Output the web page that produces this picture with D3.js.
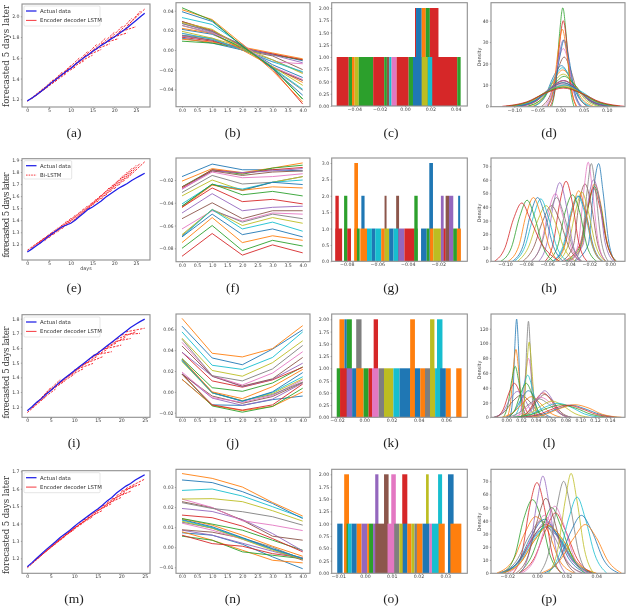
<!DOCTYPE html>
<html><head><meta charset="utf-8">
<script src="https://cdn.jsdelivr.net/npm/d3@7"></script>
<style>
html,body{margin:0;padding:0;background:#fff}
svg{display:block;filter:blur(0.55px)}
</style></head><body><svg id="c" width="629" height="608"></svg>
<script>
// ---------- palette ----------
const tab10=["#1f77b4","#ff7f0e","#2ca02c","#d62728","#9467bd","#8c564b","#e377c2","#7f7f7f","#bcbd22","#17becf"];

// ---------- forecast panels (a, e, i, m) ----------
const actualA=[1.185,1.21,1.24,1.27,1.305,1.34,1.375,1.405,1.44,1.47,1.50,1.535,1.57,1.60,1.63,1.66,1.69,1.72,1.745,1.775,1.80,1.83,1.86,1.89,1.925,1.96,1.995,2.03];
const foreStartA=[1.18,1.205,1.235,1.27,1.30,1.335,1.37,1.41,1.435,1.475,1.495,1.54,1.565,1.61,1.625,1.67,1.685,1.735,1.74,1.79,1.795,1.845,1.855,1.91];
const foreEndA=[1.315,1.33,1.39,1.39,1.46,1.45,1.525,1.51,1.60,1.57,1.665,1.625,1.73,1.68,1.79,1.735,1.845,1.785,1.91,1.84,1.98,1.90,2.05,2.07];
const actualE=[1.136,1.16,1.185,1.21,1.24,1.27,1.295,1.32,1.345,1.36,1.375,1.40,1.43,1.46,1.49,1.51,1.535,1.56,1.59,1.615,1.64,1.665,1.685,1.705,1.73,1.75,1.77,1.79];
const foreStartE=[1.15,1.17,1.19,1.21,1.23,1.255,1.28,1.305,1.33,1.355,1.375,1.405,1.435,1.465,1.495,1.525,1.55,1.575,1.605,1.635,1.66,1.69,1.72,1.75];
const foreEndE=[1.255,1.28,1.31,1.335,1.36,1.39,1.415,1.44,1.465,1.495,1.525,1.55,1.58,1.61,1.64,1.675,1.705,1.735,1.77,1.80,1.83,1.855,1.875,1.885];
const actualI=[1.173,1.20,1.23,1.255,1.285,1.31,1.34,1.37,1.395,1.42,1.445,1.47,1.495,1.52,1.545,1.565,1.59,1.615,1.64,1.665,1.69,1.715,1.74,1.76,1.78,1.797];
const foreStartI=[1.16,1.19,1.225,1.26,1.29,1.315,1.34,1.365,1.395,1.42,1.45,1.47,1.49,1.52,1.55,1.57,1.59,1.61,1.64,1.66,1.69,1.71];
const foreEndI=[1.27,1.33,1.32,1.385,1.375,1.42,1.42,1.46,1.46,1.505,1.495,1.545,1.54,1.59,1.575,1.635,1.62,1.675,1.665,1.71,1.70,1.735];
const actualM=[1.152,1.175,1.20,1.225,1.25,1.272,1.295,1.32,1.34,1.36,1.383,1.405,1.425,1.445,1.465,1.483,1.505,1.53,1.55,1.575,1.595,1.615,1.63,1.65,1.665,1.68];
const foreStartM=[1.145,1.17,1.195,1.22,1.24,1.265,1.29,1.31,1.335,1.355,1.375,1.395,1.42,1.44,1.46,1.475,1.50,1.52,1.54,1.56,1.585,1.60];
const foreEndM=[1.24,1.265,1.285,1.31,1.325,1.35,1.365,1.39,1.405,1.43,1.44,1.465,1.475,1.505,1.515,1.545,1.55,1.58,1.585,1.62,1.625,1.655];

// ---------- multi-line panels (b, f, j, n): one row per series, x = 0..4 ----------
const linesB=[
[.012,.007,0,-.004,-.011],[.011,.008,.003,-.003,-.009],[.009,.007,.002,-.005,-.010],[.013,.009,.002,-.004,-.010],
[.014,.010,.002,-.005,-.013],[.015,.010,0,-.006,-.020],[.017,.011,0,-.012,-.014],[.015,.012,0,-.010,-.023],
[.019,.012,.003,-.010,-.024],[.017,.011,0,-.012,-.022],[.021,.016,.003,-.015,-.028],[.022,.017,0,-.017,-.033],
[.025,.017,.002,-.017,-.050],[.029,.020,.004,-.019,-.055],[.027,.018,.005,-.018,-.031],[.029,.019,.004,-.018,-.031],
[.025,.017,.006,-.017,-.030],[.027,.019,.005,-.019,-.041],[.028,.021,.002,-.017,-.036],[.033,.026,.005,-.018,-.040],
[.039,.029,.004,-.019,-.046],[.041,.031,.006,-.021,-.053],[.043,.030,.004,-.018,-.050]];
const linesF=[
[-.017,-.006,-.011,-.011,-.012],[-.021,-.010,-.0135,-.0095,-.005],[-.026,-.011,-.015,-.0095,-.007],[-.027,-.011,-.014,-.011,-.009],
[-.028,-.012,-.0135,-.012,-.010],[-.026,-.012,-.016,-.013,-.012],[-.028,-.013,-.018,-.017,-.0145],[-.031,-.016,-.0235,-.022,-.017],
[-.034,-.020,-.029,-.022,-.017],[-.041,-.024,-.028,-.022,-.020],[-.043,-.024,-.029,-.022,-.024],[-.044,-.0245,-.029,-.026,-.027],
[-.043,-.0235,-.033,-.030,-.034],[-.044,-.027,-.039,-.037,-.041],[-.049,-.032,-.047,-.044,-.043],[-.054,-.040,-.054,-.047,-.047],
[-.063,-.047,-.056,-.049,-.050],[-.069,-.046,-.057,-.050,-.054],[-.068,-.046,-.060,-.053,-.058],[-.070,-.046,-.063,-.057,-.065],
[-.070,-.050,-.068,-.063,-.070],[-.075,-.053,-.075,-.069,-.073],[-.080,-.060,-.082,-.073,-.078],[-.087,-.067,-.086,-.077,-.084]];
const linesJ=[
[.012,-.0125,-.013,-.0075,-.004],[.012,-.013,-.018,-.014,0],[.017,-.0135,-.0195,-.014,.0035],[.017,-.0125,-.0175,-.0125,.0075],
[.0175,-.006,-.013,-.007,.0085],[.017,-.004,-.011,-.0045,.009],[.019,-.0055,-.010,-.0035,.0115],[.030,-.001,-.0085,-.0025,.0095],
[.029,-.001,-.0085,-.0015,.0125],[.030,-.001,-.009,-.0005,.0145],[.031,-.0005,-.009,0,.0185],[.0315,0,-.0065,.005,.0215],
[.032,.004,.0005,.0085,.024],[.038,.0105,.0045,.0115,.0235],[.038,.015,.005,.012,.0275],[.044,.015,.0055,.0125,.033],
[.0475,.0155,.0065,.018,.0385],[.0505,.0155,.0105,.022,.0445],[.0515,.0205,.015,.028,.049],[.0575,.0255,.0215,.033,.0575],
[.063,.0325,.026,.041,.0595],[.0705,.037,.0335,.0415,.0635]];
const linesN=[
[.0072,.006,.0015,-.0048,-.0107],[.0077,.0035,-.0015,-.0065,-.0078],[.0055,.0035,-.0023,-.004,-.0057],[.006,.0018,.0005,-.0032,-.0052],
[.0085,.006,.002,-.002,-.006],[.0087,.0075,.0045,-.001,-.0065],[.012,.0085,.004,-.001,-.0055],[.0125,.0095,.0045,0,-.006],
[.013,.0095,.004,-.0015,-.006],[.0135,.0098,.0045,-.001,-.0055],[.0138,.0102,.0048,-.0007,-.0057],[.0142,.011,.006,.0005,-.0045],
[.0143,.0115,.0085,.0035,-.0015],[.016,.0147,.0105,.0043,-.0023],[.0193,.0178,.0138,.0068,-.0018],[.0227,.0197,.0135,.0055,.0035],
[.024,.0198,.0132,.011,.0083],[.0222,.0193,.0177,.0152,.011],[.024,.0242,.0227,.0182,.013],[.0283,.029,.0255,.0202,.0147],
[.0335,.0322,.0277,.0218,.0143],[.0367,.0343,.03,.0223,.0155]];

// ---------- histogram panels (c, g, k, o): [from, to, count, series colour index] ----------
const histC=[
[.0079,.0087,2,3],[.0087,.0132,2,0],[.0132,.0164,2,1],[.0164,.0196,2,2],[.0196,.0264,2,3],
[-.0539,-.0444,1,3],[-.0444,-.0418,1,2],[-.0418,-.0397,1,1],[-.0397,-.0365,1,8],[-.0365,-.0251,1,2],[-.0251,-.0164,1,3],
[-.0164,-.0143,1,2],[-.0143,-.0124,1,5],[-.0124,-.0106,1,9],[-.0106,-.0066,1,6],[-.0066,.0029,1,3],[.0029,.0063,1,2],
[.0063,.0132,1,0],[.0132,.018,1,8],[.018,.0217,1,9],[.0217,.0412,1,3],[.0412,.0439,1,2]];
const histG=[
[-.0874,-.0852,2,3],[-.0817,-.0796,2,2],[-.0750,-.0726,3,1],[-.0704,-.0683,2,0],[-.0539,-.0552,2,5],[-.0476,-.0457,2,5],
[-.0357,-.0335,2,2],[-.0259,-.0235,3,0],[-.0183,-.0165,2,4],[-.0152,-.0130,2,5],[-.0130,-.0102,2,4],[-.0070,-.0057,2,0],
[-.0874,-.0830,1,3],[-.0817,-.0796,1,2],[-.0796,-.0772,1,3],[-.0750,-.0733,1,1],[-.0733,-.0715,1,2],[-.0711,-.0667,1,1],
[-.0667,-.0635,1,9],[-.0635,-.0613,1,0],[-.0613,-.0574,1,9],[-.0574,-.0552,1,1],[-.0552,-.0522,1,8],[-.0522,-.0493,1,0],
[-.0493,-.0461,1,9],[-.0461,-.0422,1,4],[-.0422,-.0357,1,3],[-.0357,-.0335,1,2],[-.0313,-.0276,1,0],[-.0276,-.0259,1,2],
[-.0254,-.0233,1,1],[-.0233,-.0183,1,8],[-.0183,-.0165,1,4],[-.0165,-.0152,1,3],[-.0152,-.0130,1,5],[-.0130,-.0102,1,4],
[-.0102,-.0078,1,2],[-.0078,-.0052,1,1]];
const histK=[
[-.0182,-.0145,2,1],[-.0145,-.0128,2,0],[-.0128,-.0091,2,2],[-.0059,-.002,2,7],[.0069,.0101,2,3],[.0337,.0372,2,1],[.0483,.0515,2,8],[.0534,.0574,2,9],
[-.0202,-.0177,1,2],[-.0177,-.0128,1,3],[-.0128,-.0089,1,4],[-.0089,-.0059,1,0],[-.0059,-.0005,1,1],[-.0005,.0032,1,2],[.0032,.0057,1,3],
[.0057,.0106,1,6],[.0106,.0145,1,7],[.0145,.0214,1,8],[.0214,.0259,1,9],[.0259,.0337,1,0],[.0337,.0372,1,1],[.0372,.0411,1,0],
[.0411,.0446,1,1],[.0446,.0483,1,7],[.0483,.052,1,8],[.052,.0557,1,9],[.0557,.0599,1,0],[.0599,.0635,1,1],[.0675,.0714,1,1]];
const histO=[
[-.0078,-.006,2,1],[.0038,.005,2,4],[.0071,.0088,2,5],[.0098,.0115,2,6],[.0139,.0158,2,3],[.0228,.0238,2,8],[.0273,.0288,2,9],[.031,.0331,2,0],
[-.0104,-.0084,1,0],[-.0078,-.0069,1,1],[-.0069,-.0064,1,2],[-.0064,-.005,1,9],[-.005,-.0031,1,0],[-.0031,-.0013,1,1],[-.0013,.0008,1,4],
[.0008,.0015,1,1],[.0015,.003,1,2],[.003,.0038,1,4],[.0038,.0084,1,5],[.0084,.0109,1,6],[.0109,.0128,1,7],[.0128,.0141,1,8],[.0141,.0158,1,0],
[.0158,.0173,1,1],[.0173,.0185,1,8],[.0185,.0194,1,7],[.0194,.0215,1,1],[.0215,.0241,1,0],[.0241,.025,1,6],[.025,.0275,1,9],[.0275,.0298,1,1],
[.0313,.0319,1,0],[.0319,.036,1,1]];

// ---------- density panels (d, h, l, p): [x values], [density values] ----------
const densD=[
[[-.057,-.034,-.015,.002,.019,.038,.061],[0,4.5,14,19,14,4.5,0]],
[[-.061,-.035,-.014,.005,.024,.045,.071],[0,4,12.4,17,12.4,4,0]],
[[-.019,-.010,-.002,.005,.012,.020,.029],[0,11,34,46,34,11,0]],
[[-.022,-.011,-.002,.006,.014,.023,.034],[0,9.4,29,40,29,9.4,0]],
[[-.030,-.016,-.004,.006,.016,.028,.042],[0,7.3,22.6,31,22.6,7.3,0]],
[[-.041,-.022,-.006,.008,.022,.038,.057],[0,5.4,17,23,17,5.4,0]],
[[-.035,-.019,-.006,.006,.018,.031,.047],[0,6.3,20,27,20,6.3,0]],
[[-.086,-.05,-.02,.006,.032,.062,.098],[0,2.8,8.8,12,8.8,2.8,0]],
[[-.07,-.04,-.016,.006,.028,.052,.082],[0,3.5,11,15,11,3.5,0]],
[[-.058,-.034,-.014,.004,.022,.041,.066],[0,4.2,13,18,13,4.2,0]],
[[-.028,-.014,-.002,.008,.018,.03,.044],[0,7.3,22.6,31,22.6,7.3,0]],
[[-.027,-.015,-.005,.004,.013,.023,.035],[0,8.5,26,36,26,8.5,0]],
[[-.072,-.041,-.015,.008,.031,.057,.088],[0,3.3,10,14,10,3.3,0]],
[[-.086,-.05,-.019,.007,.033,.063,.1],[0,2.8,8.8,12,8.8,2.8,0]],
[[-.087,-.051,-.021,.005,.031,.061,.097],[0,2.8,8.8,12,8.8,2.8,0]],
[[-.096,-.056,-.024,.005,.034,.066,.106],[0,2.6,8,11,8,2.6,0]],
[[-.102,-.061,-.026,.004,.034,.069,.11],[0,2.5,7.7,10.5,7.7,2.5,0]],
[[-.106,-.062,-.026,.006,.038,.074,.118],[0,2.4,7.3,10,7.3,2.4,0]],
[[-.113,-.066,-.029,.005,.039,.076,.123],[0,2.2,7,9.5,7,2.2,0]],
[[-.102,-.058,-.022,.01,.042,.078,.122],[0,2.4,7.3,10,7.3,2.4,0]],
[[-.095,-.055,-.023,.006,.035,.067,.107],[0,2.6,8,11,8,2.6,0]],
[[-.117,-.069,-.029,.006,.041,.081,.129],[0,2.1,6.6,9,6.6,2.1,0]],
[[-.118,-.07,-.03,.005,.04,.08,.128],[0,2.1,6.6,9,6.6,2.1,0]],
[[-.126,-.074,-.032,.006,.044,.086,.138],[0,2,6.2,8.5,6.2,2,0]]];
const densH=[
[[-.034,-.021,-.016,-.011,-.007,-.002,.004],[0,12,52,72,52,17,0]],
[[-.040,-.027,-.021,-.015,-.009,-.003,.005],[0,12,40,57,42,14,0]],
[[-.042,-.028,-.021,-.015,-.009,-.003,.006],[0,12,40,55,40,13,0]],
[[-.044,-.029,-.022,-.016,-.010,-.003,.005],[0,12,38,54,40,13,0]],
[[-.04,-.026,-.021,-.016,-.010,-.005,.003],[0,12,44,60,44,14,0]],
[[-.046,-.035,-.03,-.024,-.018,-.012,-.004],[0,12,41,57,41,13,0]],
[[-.037,-.03,-.025,-.021,-.017,-.012,-.005],[0,15,53,73,53,17,0]],
[[-.034,-.027,-.022,-.018,-.014,-.009,-.002],[0,15,52,72,52,17,0]],
[[-.05,-.04,-.033,-.027,-.021,-.014,-.005],[0,12,37,51,37,12,0]],
[[-.055,-.045,-.038,-.031,-.024,-.017,-.008],[0,11,35,48,35,11,0]],
[[-.054,-.044,-.037,-.030,-.023,-.016,-.007],[0,11,35,48,35,11,0]],
[[-.052,-.043,-.036,-.030,-.024,-.017,-.008],[0,12,38,52,38,12,0]],
[[-.06,-.05,-.043,-.036,-.029,-.022,-.013],[0,11,36,49,36,11,0]],
[[-.062,-.054,-.048,-.042,-.036,-.030,-.022],[0,14,43,59,43,14,0]],
[[-.068,-.06,-.054,-.048,-.042,-.036,-.028],[0,14,42,58,42,14,0]],
[[-.083,-.073,-.064,-.056,-.048,-.039,-.028],[0,10,30,41,30,10,0]],
[[-.075,-.066,-.059,-.052,-.046,-.038,-.029],[0,12,36,50,36,12,0]],
[[-.075,-.066,-.058,-.051,-.044,-.036,-.027],[0,11,34,47,34,11,0]],
[[-.088,-.078,-.069,-.061,-.053,-.044,-.033],[0,10,30,41,30,10,0]],
[[-.091,-.081,-.073,-.066,-.059,-.051,-.041],[0,11,33,46,33,11,0]],
[[-.093,-.083,-.076,-.069,-.062,-.054,-.045],[0,11,34,47,34,11,0]],
[[-.097,-.087,-.08,-.073,-.066,-.058,-.049],[0,11,34,47,34,11,0]],
[[-.104,-.094,-.086,-.079,-.072,-.064,-.054],[0,10,33,45,33,11,0]],
[[-.11,-.1,-.092,-.084,-.076,-.066,-.048],[0,10,31,43,31,14,0]]];
const densL=[
[[.005,.009,.0116,.014,.0164,.019,.023],[0,31,97,133,97,31,0]],
[[.001,.006,.0096,.013,.0164,.020,.025],[0,22,67,92,67,22,0]],
[[-.004,.002,.0074,.012,.0166,.022,.028],[0,16,50,69,50,16,0]],
[[-.013,-.004,.004,.011,.018,.026,.035],[0,11,34,46,34,11,0]],
[[-.017,-.004,.006,.015,.024,.034,.047],[0,8,26,35,26,8,0]],
[[-.017,-.003,.009,.02,.031,.043,.057],[0,7,22,30,22,7,0]],
[[.016,.0215,.026,.03,.034,.0385,.044],[0,19,58,80,58,19,0]],
[[.021,.025,.0276,.03,.0324,.035,.039],[0,30,95,130,95,30,0]],
[[.020,.0244,.028,.031,.034,.0376,.042],[0,24,74,102,74,24,0]],
[[.009,.017,.0234,.029,.0346,.041,.049],[0,13,42,57,42,13,0]],
[[-.001,.011,.021,.03,.039,.049,.061],[0,8,26,36,26,8,0]],
[[-.006,.01,.023,.034,.045,.058,.074],[0,7,20,28,20,7,0]],
[[.003,.012,.020,.027,.034,.042,.051],[0,11,34,46,34,11,0]],
[[.016,.03,.040,.05,.060,.07,.084],[0,8,24,33,24,8,0]],
[[.021,.033,.043,.052,.061,.071,.083],[0,8,26,36,26,8,0]],
[[.016,.03,.042,.052,.062,.074,.088],[0,7,23,31,23,7,0]],
[[.006,.022,.035,.047,.059,.072,.088],[0,6,20,27,20,6,0]],
[[0,.017,.031,.044,.057,.071,.089],[0,6,18,25,18,6,0]],
[[.012,.031,.048,.062,.076,.093,.112],[0,5,16,22,16,5,0]],
[[.011,.034,.053,.07,.087,.106,.129],[0,4.5,14,19,14,4.5,0]],
[[.023,.049,.071,.088,.105,.127,.15],[0,4,12,16.5,12,4,0]],
[[.031,.053,.074,.093,.112,.130,.156],[0,4,12.4,17,12.4,4,0]],
[[.009,.035,.056,.075,.094,.115,.141],[0,4,12.4,17,12.4,4,0]],
[[.02,.044,.065,.083,.101,.122,.146],[0,4,12,16.5,12,4,0]]];
const densP=[
[[-.026,-.013,-.003,.006,.015,.025,.038],[0,8,26,35,26,8,0]],
[[-.027,-.016,-.008,-.001,.007,.015,.025],[0,10,31,43,33,10,0]],
[[-.023,-.015,-.009,-.003,.003,.009,.017],[0,13,41,56,41,13,0]],
[[-.016,-.010,-.005,0,.005,.010,.016],[0,16,50,69,50,16,0]],
[[-.023,-.012,-.002,.006,.014,.024,.035],[0,9,28,39,28,9,0]],
[[-.024,-.012,-.003,.006,.015,.025,.036],[0,9,27,37,27,9,0]],
[[-.020,-.010,-.002,.005,.012,.020,.030],[0,10,32,44,32,10,0]],
[[-.025,-.014,-.005,.003,.011,.020,.031],[0,9,29,40,29,9,0]],
[[-.023,-.011,-.001,.008,.017,.027,.039],[0,8,26,36,26,8,0]],
[[-.024,-.012,-.002,.007,.016,.026,.038],[0,8,26,36,26,8,0]],
[[-.022,-.012,-.003,.005,.013,.022,.033],[0,10,30,41,30,10,0]],
[[-.023,-.011,-.001,.008,.017,.027,.040],[0,8,26,36,26,8,0]],
[[-.012,-.004,.004,.010,.016,.024,.032],[0,12,36,50,36,12,0]],
[[-.012,-.002,.006,.0125,.019,.027,.037],[0,11,33,46,33,11,0]],
[[-.011,-.005,0,.004,.008,.013,.019],[0,17,54,74,54,17,0]],
[[-.014,-.006,.0005,.006,.0115,.018,.026],[0,13,41,57,41,13,0]],
[[-.010,-.001,.006,.012,.018,.025,.034],[0,12,37,51,37,12,0]],
[[.002,.008,.0135,.018,.0225,.028,.034],[0,16,51,70,51,16,0]],
[[.008,.014,.019,.023,.027,.032,.038],[0,18,55,76,55,18,0]],
[[.007,.015,.0215,.027,.0325,.039,.047],[0,14,42,58,42,14,0]],
[[.005,.015,.023,.030,.037,.045,.055],[0,10,32,44,32,10,0]],
[[.003,.015,.025,.0325,.040,.048,.057],[0,9,27,37,27,9,0]]];

// ---------- tick labels and text ----------
const dayTicks=[0,5,10,15,20,25];
const stepTicks=[0,.5,1,1.5,2,2.5,3,3.5,4];
const ticksYA=[1.2,1.4,1.6,1.8,2.0], ticksYE=[1.2,1.3,1.4,1.5,1.6,1.7,1.8,1.9], ticksYI=[1.2,1.3,1.4,1.5,1.6,1.7,1.8], ticksYM=[1.2,1.3,1.4,1.5,1.6,1.7];
const ticksYB=[-.04,-.02,0,.02,.04], ticksYF=[-.08,-.06,-.04,-.02], ticksYJ=[-.02,0,.02,.04,.06], ticksYN=[-.01,0,.01,.02,.03];
const ticksXC=[-.04,-.02,0,.02,.04], ticksXG=[-.08,-.06,-.04,-.02], ticksXK=[-.02,0,.02,.04,.06], ticksXO=[-.01,0,.01,.02,.03];
const countTicks2=[0,.25,.5,.75,1,1.25,1.5,1.75,2], countTicks3=[0,.5,1,1.5,2,2.5,3];
const ticksXD=[-.10,-.05,0,.05,.10], ticksXH=[-.10,-.08,-.06,-.04,-.02,0], ticksXL=[0,.02,.04,.06,.08,.10,.12,.14], ticksXP=[-.02,0,.02,.04];
const ticksYD=[0,10,20,30,40], ticksYH=[0,10,20,30,40,50,60,70], ticksYL=[0,20,40,60,80,100,120], ticksYP=[0,10,20,30,40,50,60,70];
const yLabelText="forecasted 5 days later", actualName="Actual data", edName="Encoder decoder LSTM", biName="Bi-LSTM", densityName="Density", daysName="days";

// ---------- drawing ----------
const svg=d3.select("#c");
const sans="'DejaVu Sans',sans-serif", serif="'Liberation Serif',serif", wideSerif="'DejaVu Serif',serif";
const fmtMinus=f=>v=>d3.format(f)(v).replace("-","\u2212");
const horizon=4;

function panel(o){
  const [L,R,T,B]=o.frame;
  const x=d3.scaleLinear().domain(o.xa[0]).range(o.xa[1]);
  const y=d3.scaleLinear().domain(o.ya[0]).range(o.ya[1]);
  const g=svg.append("g");
  const clip="clip"+o.title.replace(/[()]/g,"");
  svg.append("clipPath").attr("id",clip).append("rect").attr("x",L).attr("y",T).attr("width",R-L).attr("height",B-T);
  const m=g.append("g").attr("clip-path",`url(#${clip})`);
  o.draw(m,x,y);
  g.append("rect").attr("x",L).attr("y",T).attr("width",R-L).attr("height",B-T).attr("fill","none").attr("stroke","#8f8f8f").attr("stroke-width",1.1);
  const ax=d3.axisBottom(x).tickValues(o.xt).tickFormat(fmtMinus(o.xf)).tickSize(1.2).tickPadding(.6);
  const ay=d3.axisLeft(y).tickValues(o.yt).tickFormat(fmtMinus(o.yf)).tickSize(1.2).tickPadding(1.2);
  for(const [a,tr] of [[ax,`translate(0,${B})`],[ay,`translate(${L},0)`]]){
    const s=g.append("g").attr("transform",tr).call(a);
    s.select(".domain").remove();
    s.selectAll("line").attr("stroke","#555").attr("stroke-width",.4);
    s.selectAll("text").attr("font-family",sans).attr("font-size",4.7).attr("fill","#444");
  }
  g.append("text").attr("x",o.tx).attr("y",o.ty).attr("text-anchor","middle").attr("font-family",serif).attr("font-size",13.5).attr("fill","#222").text(o.title);
  if(o.after)o.after(g);
}

function forecast(actual,fs,fe,dash){
  return (m,x,y)=>{
    const ln=d3.line().x(d=>x(d[0])).y(d=>y(d[1]));
    fs.forEach((s,t)=>m.append("path").attr("d",ln([[t,s],[t+horizon,fe[t]]])).attr("fill","none").attr("stroke","#f4222a").attr("stroke-width",.95).attr("stroke-dasharray",dash||"2.4,1.2"));
    m.append("path").attr("d",ln(actual.map((v,i)=>[i,v]))).attr("fill","none").attr("stroke","#1f1fe6").attr("stroke-width",1.25);
  };
}
function multi(rows){
  return (m,x,y)=>{
    const ln=d3.line().x((d,i)=>x(i)).y(d=>y(d));
    rows.forEach((r,i)=>m.append("path").attr("d",ln(r)).attr("fill","none").attr("stroke",tab10[i%10]).attr("stroke-width",.9));
  };
}
function hist(rows){
  return (m,x,y)=>{
    rows.forEach(r=>m.append("rect").attr("x",Math.min(x(r[0]),x(r[1]))).attr("width",Math.abs(x(r[1])-x(r[0]))).attr("y",y(r[2])).attr("height",y(0)-y(r[2])).attr("fill",tab10[r[3]]));
  };
}
function density(rows){
  return (m,x,y)=>{
    const ln=d3.line().x(d=>x(d[0])).y(d=>y(d[1])).curve(d3.curveMonotoneX);
    rows.forEach((r,i)=>m.append("path").attr("d",ln(r[0].map((v,k)=>[v,r[1][k]]))).attr("fill","none").attr("stroke",tab10[i%10]).attr("stroke-width",.8));
  };
}
function legend(g,box,name2,dash){
  const [x0,y0,w,h]=box;
  g.append("rect").attr("x",x0).attr("y",y0).attr("width",w).attr("height",h).attr("fill","#fff").attr("stroke","#ccc").attr("stroke-width",.5).attr("rx",1);
  [[actualName,"#1f1fe6",null,1.25],[name2,"#f4222a",dash,.9]].forEach((e,i)=>{
    const yy=y0+5+i*9.4;
    g.append("line").attr("x1",x0+2).attr("x2",x0+12.5).attr("y1",yy).attr("y2",yy).attr("stroke",e[1]).attr("stroke-width",e[3]).attr("stroke-dasharray",e[2]);
    g.append("text").attr("x",x0+16).attr("y",yy+1.9).attr("font-family",sans).attr("font-size",5.4).attr("fill","#333").text(e[0]);
  });
}
function yLabel(g,yc,len){
  g.append("text").attr("transform",`translate(8.6,${yc}) rotate(-90)`).attr("text-anchor","middle").attr("font-family",wideSerif).attr("font-size",8.6).attr("fill","#333").attr("textLength",len).attr("lengthAdjust","spacing").text(yLabelText);
}
function densLabel(g,yc){
  g.append("text").attr("transform",`translate(480.5,${yc}) rotate(-90)`).attr("text-anchor","middle").attr("font-family",sans).attr("font-size",4.9).attr("fill","#444").text(densityName);
}
const XL=[22,150],XM=[176,310],XH=[331.7,467.3],XR=[491,625];
const xStep=[[0,4],[182,302.7]];

// Row 1
panel({title:"(a)",tx:74,ty:137,frame:[...XL,4,107],xa:[[0,25],[27.3,136]],ya:[[1.2,2.0],[99.3,16.3]],xt:dayTicks,xf:"d",yt:ticksYA,yf:".1f",
  draw:forecast(actualA,foreStartA,foreEndA),after:g=>{legend(g,[24,6,76,20],edName);yLabel(g,56,102);}});
panel({title:"(b)",tx:232.7,ty:137,frame:[...XM,2.7,106.7],xa:xStep,ya:[[-.04,.04],[89.3,10.7]],xt:stepTicks,xf:".1f",yt:ticksYB,yf:".2f",draw:multi(linesB)});
panel({title:"(c)",tx:391,ty:137,frame:[...XH,2.7,106],xa:[[-.04,.04],[354.3,455.7]],ya:[[0,2],[106,8]],xt:ticksXC,xf:".2f",yt:countTicks2,yf:".2f",draw:hist(histC)});
panel({title:"(d)",tx:549,ty:137,frame:[...XR,2.7,106.7],xa:[[-.10,.10],[514.3,606.7]],ya:[[0,40],[106.3,20.7]],xt:ticksXD,xf:".2f",yt:ticksYD,yf:"d",draw:density(densD),after:g=>densLabel(g,57)});
// Row 2
panel({title:"(e)",tx:74,ty:292,frame:[...XL,158.7,260],xa:[[0,25],[27.3,136]],ya:[[1.2,1.9],[244.3,160]],xt:dayTicks,xf:"d",yt:ticksYE,yf:".1f",
  draw:forecast(actualE,foreStartE,foreEndE),after:g=>{legend(g,[24,160.7,47.7,18.3],biName,"1.6,1");yLabel(g,215,85);
    g.append("text").attr("x",86).attr("y",270).attr("text-anchor","middle").attr("font-family",sans).attr("font-size",4.9).attr("fill","#444").text(daysName);}});
panel({title:"(f)",tx:232.7,ty:292,frame:[...XM,158,261.7],xa:xStep,ya:[[-.08,-.02],[248.3,180]],xt:stepTicks,xf:".1f",yt:ticksYF,yf:".2f",draw:multi(linesF)});
panel({title:"(g)",tx:391,ty:292,frame:[...XH,158,261.3],xa:[[-.08,-.02],[346.7,438.3]],ya:[[0,3],[261.3,163]],xt:ticksXG,xf:".2f",yt:countTicks3,yf:".1f",draw:hist(histG)});
panel({title:"(h)",tx:549,ty:292,frame:[...XR,158,261.3],xa:[[-.10,0],[505,610.3]],ya:[[0,70],[261.3,166.3]],xt:ticksXH,xf:".2f",yt:ticksYH,yf:"d",draw:density(densH),after:g=>densLabel(g,213)});
// Row 3
panel({title:"(i)",tx:74,ty:447,frame:[...XL,314.7,417.3],xa:[[0,25],[27.3,144.7]],ya:[[1.2,1.8],[406.7,318.7]],xt:dayTicks,xf:"d",yt:ticksYI,yf:".1f",
  draw:forecast(actualI,foreStartI,foreEndI),after:g=>{legend(g,[24,317,76,20],edName);yLabel(g,372.5,92);}});
panel({title:"(j)",tx:232.7,ty:447,frame:[...XM,314,417.3],xa:xStep,ya:[[-.02,.06],[412.7,329.3]],xt:stepTicks,xf:".1f",yt:ticksYJ,yf:".2f",draw:multi(linesJ)});
panel({title:"(k)",tx:391,ty:447,frame:[...XH,314,417.3],xa:[[-.02,.06],[337,446]],ya:[[0,2],[417.3,319.3]],xt:ticksXK,xf:".2f",yt:countTicks2,yf:".2f",draw:hist(histK)});
panel({title:"(l)",tx:549,ty:447,frame:[...XR,314,417.3],xa:[[0,.14],[506.3,609.7]],ya:[[0,120],[417.3,328.7]],xt:ticksXL,xf:".2f",yt:ticksYL,yf:"d",draw:density(densL),after:g=>densLabel(g,370)});
// Row 4
panel({title:"(m)",tx:74,ty:603,frame:[...XL,470.7,573.3],xa:[[0,25],[27.3,144.7]],ya:[[1.2,1.7],[558.3,471.3]],xt:dayTicks,xf:"d",yt:ticksYM,yf:".1f",
  draw:forecast(actualM,foreStartM,foreEndM),after:g=>{legend(g,[24,472.7,76,20],edName);yLabel(g,525,98);}});
panel({title:"(n)",tx:232.7,ty:603,frame:[...XM,469.3,573.3],xa:xStep,ya:[[-.01,.03],[567.3,487]],xt:stepTicks,xf:".1f",yt:ticksYN,yf:".2f",draw:multi(linesN)});
panel({title:"(o)",tx:391,ty:603,frame:[...XH,469.3,573.3],xa:[[-.01,.03],[338.3,445.3]],ya:[[0,2],[573,474.3]],xt:ticksXO,xf:".2f",yt:countTicks2,yf:".2f",draw:hist(histO)});
panel({title:"(p)",tx:549,ty:603,frame:[...XR,469.3,573.3],xa:[[-.02,.04],[507.3,596.3]],ya:[[0,70],[573,481.3]],xt:ticksXP,xf:".2f",yt:ticksYP,yf:"d",draw:density(densP),after:g=>densLabel(g,522)});
</script></body></html>
